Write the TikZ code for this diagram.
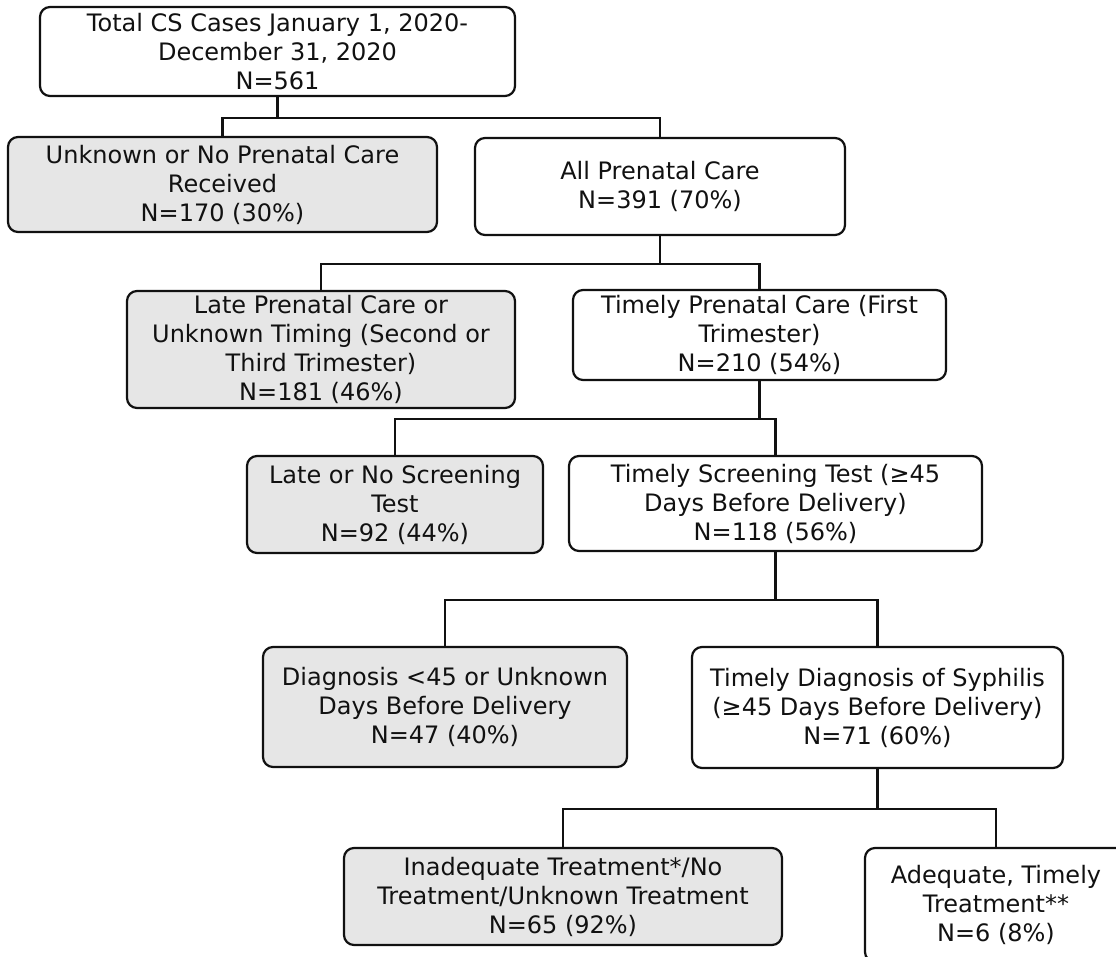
\documentclass[tikz,border=0pt]{standalone}
\usepackage{fontspec}
\setmainfont{DejaVu Sans}
\definecolor{boxgray}{HTML}{E6E6E6}
\definecolor{ink}{HTML}{111111}
\tikzset{
  fbox/.style={draw=ink, text=ink, rounded corners=10pt, line width=2.2pt, align=center,
    inner sep=0pt, font=\fontsize{24}{29}\selectfont, fill=white},
  gbox/.style={fbox, fill=boxgray},
  conn/.style={draw=ink, line width=2.2pt}
}
\begin{document}
\begin{tikzpicture}[x=1pt,y=-1pt]
\useasboundingbox[fill=white] (0,0) rectangle (1116,956);
% boxes
\node[fbox, minimum width=475pt, minimum height=89pt] (tot) at (277.5,51.5)
  {Total CS Cases January 1, 2020-\\December 31, 2020\\N=561};
\node[gbox, minimum width=429pt, minimum height=95pt] (unk) at (222.5,184.5)
  {Unknown or No Prenatal Care\\Received\\N=170 (30\%)};
\node[fbox, minimum width=370pt, minimum height=97pt] (allp) at (660,186.5)
  {All Prenatal Care\\N=391 (70\%)};
\node[gbox, minimum width=388pt, minimum height=117pt] (late) at (321,349.5)
  {Late Prenatal Care or\\Unknown Timing (Second or\\Third Trimester)\\N=181 (46\%)};
\node[fbox, minimum width=373pt, minimum height=90pt] (timp) at (759.5,335)
  {Timely Prenatal Care (First\\Trimester)\\N=210 (54\%)};
\node[gbox, minimum width=296pt, minimum height=97pt] (lscr) at (395,504.5)
  {Late or No Screening\\Test\\N=92 (44\%)};
\node[fbox, minimum width=413pt, minimum height=95pt] (tscr) at (775.5,503.5)
  {Timely Screening Test (≥45\\Days Before Delivery)\\N=118 (56\%)};
\node[gbox, minimum width=364pt, minimum height=120pt] (ldia) at (445,707)
  {Diagnosis <45 or Unknown\\Days Before Delivery\\N=47 (40\%)};
\node[fbox, minimum width=371pt, minimum height=121pt] (tdia) at (877.5,707.5)
  {Timely Diagnosis of Syphilis\\(≥45 Days Before Delivery)\\N=71 (60\%)};
\node[gbox, minimum width=438pt, minimum height=97pt] (inad) at (563,896.5)
  {Inadequate Treatment*/No\\Treatment/Unknown Treatment\\N=65 (92\%)};
\node[fbox, minimum width=262pt, minimum height=114pt] (adeq) at (996,905)
  {Adequate, Timely\\Treatment**\\N=6 (8\%)};
% connectors
\path (tot.south) ++(0,21) coordinate (j1);
\draw[conn] (tot.south) -- (j1);
\draw[conn] (j1) -| (unk.north);
\draw[conn] (j1) -| (allp.north);
\path (allp.south) ++(0,28) coordinate (j2);
\draw[conn] (allp.south) -- (j2);
\draw[conn] (j2) -| (late.north);
\draw[conn] (j2) -| (timp.north);
\path (timp.south) ++(0,38) coordinate (j3);
\draw[conn] (timp.south) -- (j3);
\draw[conn] (j3) -| (lscr.north);
\draw[conn] (j3) -| (tscr.north);
\path (tscr.south) ++(0,48) coordinate (j4);
\draw[conn] (tscr.south) -- (j4);
\draw[conn] (j4) -| (ldia.north);
\draw[conn] (j4) -| (tdia.north);
\path (tdia.south) ++(0,40) coordinate (j5);
\draw[conn] (tdia.south) -- (j5);
\draw[conn] (j5) -| (inad.north);
\draw[conn] (j5) -| (adeq.north);
\end{tikzpicture}
\end{document}
